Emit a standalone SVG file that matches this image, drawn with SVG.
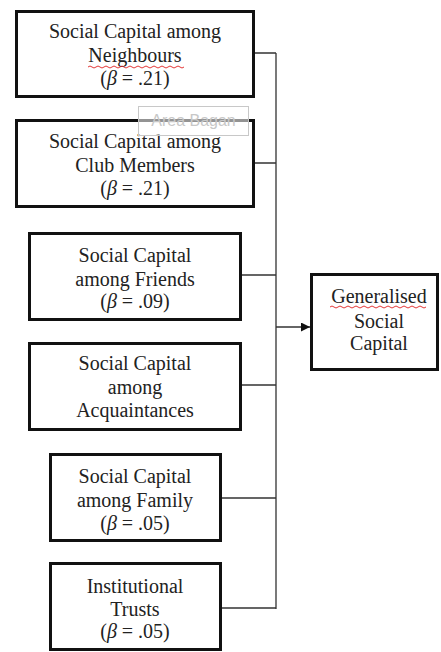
<svg xmlns="http://www.w3.org/2000/svg" width="441" height="652" viewBox="0 0 441 652">
  <style>
    .box { fill: #ffffff; stroke: #111111; stroke-width: 3; }
    .lbl { font-family: 'Liberation Serif', 'DejaVu Serif', 'Times New Roman', serif; font-size: 20px; fill: #222222; text-anchor: middle; }
    .wire { fill: none; stroke: #333333; stroke-width: 1.3; }
    .squiggle { fill: none; stroke: #e02020; stroke-width: 0.9; }
    .beta { font-style: italic; }
  </style>
  <defs>
    <marker id="arrow" viewBox="0 0 10 10" refX="10" refY="5" markerWidth="10" markerHeight="9" markerUnits="userSpaceOnUse" orient="auto">
      <path d="M0,0 L10,5 L0,10 z" fill="#111111"/>
    </marker>
  </defs>

  <g id="connectors">
    <path class="wire" d="M254,53 H276 M254,163 H276 M241,275 H276 M241,385 H276 M221,498 H276 M221,608 H276 M276,53 V609"/>
    <path class="wire" d="M276,327 H310" marker-end="url(#arrow)"/>
  </g>

  <g id="neighbours">
    <rect class="box" x="16.5" y="11.5" width="237" height="85"/>
    <text class="lbl" x="135" y="38">Social Capital among</text>
    <text class="lbl" x="135" y="62">Neighbours</text>
    <path class="squiggle" d="M88,67 q2,-2 4,0 t4,0 t4,0 t4,0 t4,0 t4,0 t4,0 t4,0 t4,0 t4,0 t4,0 t4,0 t4,0 t4,0 t4,0 t4,0 t4,0 t4,0 t4,0 t4,0 t4,0 t4,0 t4,0 t4,0"/>
    <text class="lbl" x="135" y="85">(<tspan class="beta">β</tspan> = .21)</text>
  </g>

  <g id="club-members">
    <rect class="box" x="16.5" y="120.5" width="237" height="86"/>
    <text class="lbl" x="135" y="148">Social Capital among</text>
    <text class="lbl" x="135" y="172">Club Members</text>
    <text class="lbl" x="135" y="195">(<tspan class="beta">β</tspan> = .21)</text>
  </g>

  <g id="chart-area-tag">
    <rect x="138.5" y="106.5" width="110" height="29" fill="#ffffff" fill-opacity="0.55" stroke="#c8c8c8" stroke-width="1"/>
    <text x="193.5" y="126" font-family="'Liberation Sans', Arial, sans-serif" font-size="16" fill="#c8c8c8" text-anchor="middle">Area Bagan</text>
  </g>

  <g id="friends">
    <rect class="box" x="29.5" y="233.5" width="211" height="86"/>
    <text class="lbl" x="135" y="262">Social Capital</text>
    <text class="lbl" x="135" y="286">among Friends</text>
    <text class="lbl" x="135" y="308">(<tspan class="beta">β</tspan> = .09)</text>
  </g>

  <g id="acquaintances">
    <rect class="box" x="29.5" y="343.5" width="211" height="86"/>
    <text class="lbl" x="135" y="370">Social Capital</text>
    <text class="lbl" x="135" y="394">among</text>
    <text class="lbl" x="135" y="417">Acquaintances</text>
  </g>

  <g id="family">
    <rect class="box" x="50.5" y="454.5" width="170" height="86"/>
    <text class="lbl" x="135" y="483">Social Capital</text>
    <text class="lbl" x="135" y="507">among Family</text>
    <text class="lbl" x="135" y="530">(<tspan class="beta">β</tspan> = .05)</text>
  </g>

  <g id="institutional-trusts">
    <rect class="box" x="50.5" y="563.5" width="170" height="86"/>
    <text class="lbl" x="135" y="593">Institutional</text>
    <text class="lbl" x="135" y="616">Trusts</text>
    <text class="lbl" x="135" y="638">(<tspan class="beta">β</tspan> = .05)</text>
  </g>

  <g id="generalised-social-capital">
    <rect class="box" x="311.5" y="274.5" width="126" height="95"/>
    <text class="lbl" x="379" y="303">Generalised</text>
    <path class="squiggle" d="M330,307 q2,-2 4,0 t4,0 t4,0 t4,0 t4,0 t4,0 t4,0 t4,0 t4,0 t4,0 t4,0 t4,0 t4,0 t4,0 t4,0 t4,0 t4,0 t4,0 t4,0 t4,0 t4,0 t4,0 t4,0 t4,0"/>
    <text class="lbl" x="379" y="328">Social</text>
    <text class="lbl" x="379" y="350">Capital</text>
  </g>
</svg>
